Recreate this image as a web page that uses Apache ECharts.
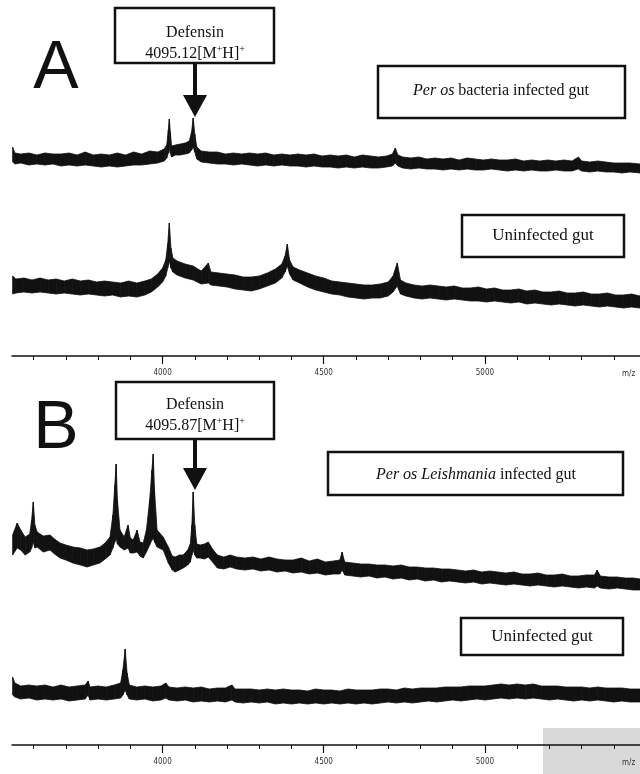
<!DOCTYPE html>
<html><head><meta charset="utf-8">
<script src="https://cdn.jsdelivr.net/npm/echarts@6/dist/echarts.min.js"></script>
<style>html,body{margin:0;padding:0;background:#fff}#c{width:640px;height:774px}</style>
</head><body><div id="c"></div>
<script>
// m/z range shown on both panels
const mzRange = [3533, 5481];
const minorTicks = [3600,3700,3800,3900,4000,4100,4200,4300,4400,4500,4600,4700,4800,4900,5000,5100,5200,5300,5400];
const majorTicks = [4000, 4500, 5000];

// Each trace: [m/z, lower edge of noisy band, upper edge of noisy band] (relative intensity)
const traceA1 = [ // Per os bacteria infected gut
[3535,18,33],[3542,16,27],[3560,17,26],[3585,15,27],[3610,16,25],[3635,15,27],[3660,16,26],[3685,14,26],
[3710,15,27],[3735,14,25],[3760,15,28],[3785,14,25],[3810,13,26],[3835,14,25],[3860,13,27],[3885,14,25],
[3910,15,28],[3935,15,26],[3960,16,29],[3985,17,28],[4005,19,31],[4013,22,35],[4018,27,50],[4021,32,61],
[4024,27,48],[4028,23,34],[4040,25,35],[4055,25,36],[4070,26,37],[4083,27,39],[4090,30,48],[4095,33,62],
[4100,28,46],[4106,21,33],[4120,18,29],[4145,17,28],[4170,16,28],[4195,16,26],[4220,15,27],[4245,16,26],
[4270,15,27],[4295,14,26],[4320,15,27],[4345,14,25],[4370,15,26],[4395,14,25],[4420,14,26],[4445,13,25],
[4470,14,26],[4495,13,24],[4520,13,25],[4545,12,24],[4570,13,25],[4595,12,23],[4620,13,25],[4645,12,24],
[4670,12,23],[4695,13,24],[4713,14,26],[4722,17,32],[4730,14,25],[4745,12,23],[4770,11,22],[4795,12,23],
[4820,11,21],[4845,11,22],[4870,10,21],[4895,11,22],[4920,10,20],[4945,11,22],[4970,10,21],[4995,10,20],
[5020,11,21],[5045,10,20],[5070,9,20],[5095,10,21],[5120,9,19],[5145,10,20],[5170,9,19],[5195,9,20],
[5220,10,19],[5245,9,20],[5270,9,19],[5290,11,23],[5300,9,19],[5325,8,18],[5350,9,19],[5375,8,18],
[5400,8,17],[5425,7,17],[5450,8,17],[5481,7,16]
];
const traceA2 = [ // Uninfected gut (A)
[3535,62,80],[3545,63,77],[3570,64,78],[3595,63,76],[3620,64,78],[3645,63,76],[3670,62,77],[3695,63,75],
[3720,62,77],[3745,61,75],[3770,62,76],[3795,61,74],[3820,60,75],[3845,61,74],[3870,59,73],[3895,60,75],
[3920,59,73],[3945,61,75],[3965,64,77],[3985,69,82],[4000,74,88],[4010,80,96],[4016,88,112],[4021,95,133],
[4026,88,108],[4032,84,98],[4045,81,95],[4070,78,92],[4095,76,90],[4120,72,85],[4142,73,93],[4150,71,84],
[4175,70,83],[4200,69,82],[4225,67,81],[4250,66,79],[4275,65,79],[4300,67,80],[4325,70,83],[4350,73,87],
[4370,78,92],[4380,84,100],[4387,90,112],[4394,82,96],[4405,76,89],[4425,73,86],[4450,69,83],[4475,66,80],
[4500,64,78],[4525,62,75],[4550,61,74],[4575,59,73],[4600,58,72],[4625,57,71],[4650,58,71],[4675,58,72],
[4700,60,74],[4715,64,80],[4728,70,93],[4738,62,76],[4755,60,73],[4780,58,71],[4805,57,70],[4830,58,71],
[4855,57,70],[4880,56,69],[4905,57,70],[4930,56,68],[4955,55,68],[4980,55,69],[5005,54,67],[5030,55,68],
[5055,54,66],[5080,53,66],[5105,54,67],[5130,52,65],[5155,53,66],[5180,52,64],[5205,51,64],[5230,52,65],
[5255,51,63],[5280,50,63],[5305,51,64],[5330,50,62],[5355,49,62],[5380,50,63],[5405,49,61],[5430,48,61],
[5455,49,62],[5481,48,60]
];
const traceB1 = [ // Per os Leishmania infected gut
[3535,55,75],[3549,62,87],[3560,60,80],[3574,55,73],[3588,58,76],[3594,62,90],[3599,68,108],[3604,62,85],
[3611,63,78],[3630,58,74],[3651,60,75],[3665,56,71],[3682,52,67],[3700,50,65],[3722,47,63],[3745,45,62],
[3766,43,60],[3785,45,61],[3806,47,63],[3822,51,67],[3837,55,73],[3846,62,95],[3852,68,125],[3856,72,146],
[3860,66,110],[3868,63,80],[3881,60,73],[3893,62,85],[3900,57,72],[3909,57,70],[3921,58,80],[3930,54,68],
[3940,52,67],[3950,58,80],[3960,65,110],[3967,70,140],[3971,72,156],[3975,68,120],[3983,63,80],[4002,60,73],
[4018,47,63],[4030,40,54],[4039,38,53],[4052,40,55],[4064,42,55],[4078,45,60],[4086,48,66],[4091,55,85],
[4095,60,118],[4100,55,85],[4106,52,66],[4117,52,65],[4130,51,66],[4142,53,68],[4155,48,61],[4170,42,55],
[4190,41,53],[4210,43,55],[4230,41,53],[4255,40,52],[4280,41,53],[4305,39,51],[4330,40,53],[4355,38,51],
[4380,39,50],[4405,37,50],[4430,38,52],[4455,36,49],[4480,37,51],[4505,35,48],[4530,36,49],[4550,36,50],
[4557,40,58],[4565,35,48],[4590,34,47],[4615,33,46],[4640,34,46],[4665,32,45],[4690,33,45],[4715,31,44],
[4740,32,45],[4765,30,43],[4790,31,43],[4815,29,42],[4840,30,42],[4865,28,41],[4890,29,41],[4915,28,40],
[4940,27,39],[4965,28,40],[4990,26,38],[5015,27,39],[5040,26,38],[5065,25,37],[5090,26,38],[5115,25,36],
[5140,24,36],[5165,25,37],[5190,24,35],[5215,23,35],[5240,24,36],[5265,23,34],[5290,22,34],[5315,23,35],
[5340,22,35],[5348,24,40],[5358,22,34],[5385,21,33],[5410,22,33],[5435,21,32],[5460,20,32],[5481,20,31]
];
const traceB2 = [ // Uninfected gut (B)
[3535,50,68],[3542,48,62],[3560,46,59],[3585,47,60],[3610,45,59],[3635,46,60],[3660,45,58],[3685,46,60],
[3710,44,58],[3735,45,59],[3760,46,60],[3769,50,64],[3775,45,58],[3800,46,59],[3825,45,58],[3850,46,60],
[3870,47,62],[3877,50,75],[3884,55,96],[3890,50,72],[3897,46,60],[3920,45,58],[3945,46,59],[3970,44,58],
[3995,45,59],[4010,47,62],[4020,45,58],[4045,44,57],[4070,45,58],[4095,43,57],[4120,44,58],[4145,43,56],
[4170,44,57],[4195,43,57],[4215,45,60],[4225,43,56],[4250,42,56],[4275,43,56],[4300,42,55],[4325,43,56],
[4350,41,55],[4375,42,56],[4400,41,55],[4425,42,55],[4450,41,54],[4475,42,56],[4500,41,55],[4525,42,55],
[4550,41,54],[4575,42,56],[4600,41,55],[4625,42,55],[4650,41,55],[4675,42,56],[4700,43,56],[4725,42,55],
[4750,43,57],[4775,42,56],[4800,43,57],[4825,44,57],[4850,43,57],[4875,44,58],[4900,45,58],[4925,44,58],
[4950,45,59],[4975,46,59],[5000,45,59],[5025,46,60],[5050,47,61],[5075,46,60],[5100,47,61],[5125,46,60],
[5150,47,61],[5175,46,59],[5200,45,59],[5225,46,59],[5250,45,58],[5275,44,58],[5300,45,58],[5325,44,57],
[5350,45,58],[5375,44,57],[5400,43,57],[5425,44,57],[5450,43,56],[5481,43,56]
];

const INK = '#111';
const chart = echarts.init(document.getElementById('c'), null, {renderer: 'canvas'});

const grids = [
  {left: 12, right: 0, top: 100, height: 80},   // 0 A1
  {left: 12, right: 0, top: 191, height: 165},  // 1 A2 (axis)
  {left: 12, right: 0, top: 191, height: 165},  // 2 A major ticks
  {left: 12, right: 0, top: 440, height: 170},  // 3 B1
  {left: 12, right: 0, top: 620, height: 125},  // 4 B2 (axis)
  {left: 12, right: 0, top: 620, height: 125}   // 5 B major ticks
].map(g => Object.assign({containLabel: false, outerBoundsMode: 'none'}, g));
const yMax = [80, 165, 165, 170, 125, 125];

const xAxes = grids.map((g, i) => {
  const base = {type: 'value', gridIndex: i, min: mzRange[0], max: mzRange[1], splitLine: {show: false}};
  if (i === 0 || i === 3) return Object.assign(base, {show: false});
  if (i === 1 || i === 4) return Object.assign(base, {
    axisLine: {show: true, lineStyle: {color: INK, width: 1.5}},
    axisTick: {show: true, customValues: minorTicks, length: 4, lineStyle: {color: INK, width: 1}},
    axisLabel: {show: false}
  });
  return Object.assign(base, {
    axisLine: {show: false},
    axisTick: {show: true, customValues: majorTicks, length: 8, lineStyle: {color: INK, width: 1.2}},
    axisLabel: {show: true, customValues: majorTicks, margin: 13, fontSize: 8,
      formatter: v => String(v),
      fontFamily: '"DejaVu Sans Condensed", "DejaVu Sans", sans-serif', color: '#333'}
  });
});
const yAxes = grids.map((g, i) => ({type: 'value', gridIndex: i, min: 0, max: yMax[i], show: false}));

// noisy band drawn as a chain of quads between consecutive [m/z, low, high] samples
function band(trace, gi) {
  const segs = [];
  for (let i = 0; i < trace.length - 1; i++) {
    const a = trace[i], b = trace[i + 1];
    segs.push([a[0], a[1], a[2], b[0], b[1], b[2]]);
  }
  return {
    type: 'custom', xAxisIndex: gi, yAxisIndex: gi, silent: true, z: 3,
    encode: {x: [0, 3], y: [1, 2, 4, 5]},
    data: segs,
    renderItem: (params, api) => {
      const p1 = api.coord([api.value(0), api.value(1)]);
      const p2 = api.coord([api.value(0), api.value(2)]);
      const p3 = api.coord([api.value(3), api.value(5)]);
      const p4 = api.coord([api.value(3), api.value(4)]);
      return {type: 'polygon', shape: {points: [p1, p2, p3, p4]},
        style: {fill: INK, stroke: INK, lineWidth: 0.8}};
    }
  };
}

const serif = '"Liberation Serif", "Times New Roman", serif';
function box(x, y, w, h, lw) {
  return {type: 'rect', shape: {x, y, width: w, height: h}, style: {fill: '#fff', stroke: INK, lineWidth: lw}};
}
function label(x, y, text, rich, size) {
  return {type: 'text', x, y, style: {text, fontSize: size, fontFamily: serif, fill: INK,
    align: 'center', verticalAlign: 'middle', rich}};
}
const supRich = {
  n: {fontSize: 16, fontFamily: serif, lineHeight: 20, fill: INK},
  s: {fontSize: 10, fontFamily: serif, lineHeight: 10, verticalAlign: 'top', fill: INK}
};
const itRich = {
  i: {fontSize: 16, fontFamily: serif, fontStyle: 'italic', fill: INK},
  n: {fontSize: 16, fontFamily: serif, fill: INK}
};
function arrow(x, y1, y2, tip) {
  return [
    {type: 'line', shape: {x1: x, y1, x2: x, y2: y2 + 2}, style: {stroke: INK, lineWidth: 4}},
    {type: 'polygon', shape: {points: [[x - 12, y2], [x + 12, y2], [x, tip]]}, style: {fill: INK}}
  ];
}

const graphics = [
  {type: 'rect', z: -10, shape: {x: 543, y: 728, width: 97, height: 46}, style: {fill: '#d9d9d9'}},
  {type: 'text', x: 56, y: 69, style: {text: 'A', fontSize: 68, fontFamily: '"Liberation Sans", Arial, sans-serif', fill: INK, align: 'center', verticalAlign: 'middle'}},
  {type: 'text', x: 56, y: 429, style: {text: 'B', fontSize: 68, fontFamily: '"Liberation Sans", Arial, sans-serif', fill: INK, align: 'center', verticalAlign: 'middle'}},
  box(115, 8, 159, 55, 2.5),
  label(195, 33, 'Defensin', null, 16),
  label(195, 54, '{n|4095.12[M}{s|+}{n|H]}{s|+}', supRich, 16),
  ...arrow(195, 63, 95, 117),
  box(378, 66, 247, 52, 2.5),
  label(501, 91, '{i|Per os} {n|bacteria infected gut}', itRich, 16),
  box(462, 215, 162, 42, 2.5),
  label(543, 236, 'Uninfected gut', null, 17),
  {type: 'text', x: 622, y: 370, style: {text: 'm/z', fontSize: 8, fontFamily: '"DejaVu Sans Condensed", sans-serif', fill: '#333'}},
  box(116, 382, 158, 57, 2.5),
  label(195, 405, 'Defensin', null, 16),
  label(195, 426, '{n|4095.87[M}{s|+}{n|H]}{s|+}', supRich, 16),
  ...arrow(195, 439, 468, 490),
  box(328, 452, 295, 43, 2.5),
  label(476, 475, '{i|Per os Leishmania} {n|infected gut}', itRich, 16),
  box(461, 618, 162, 37, 2.5),
  label(542, 637, 'Uninfected gut', null, 17),
  {type: 'text', x: 622, y: 759, style: {text: 'm/z', fontSize: 8, fontFamily: '"DejaVu Sans Condensed", sans-serif', fill: '#333'}}
];

chart.setOption({
  animation: false,
  backgroundColor: '#fff',
  grid: grids,
  xAxis: xAxes,
  yAxis: yAxes,
  series: [band(traceA1, 0), band(traceA2, 1), band(traceB1, 3), band(traceB2, 4)],
  graphic: graphics
});
</script></body></html>
